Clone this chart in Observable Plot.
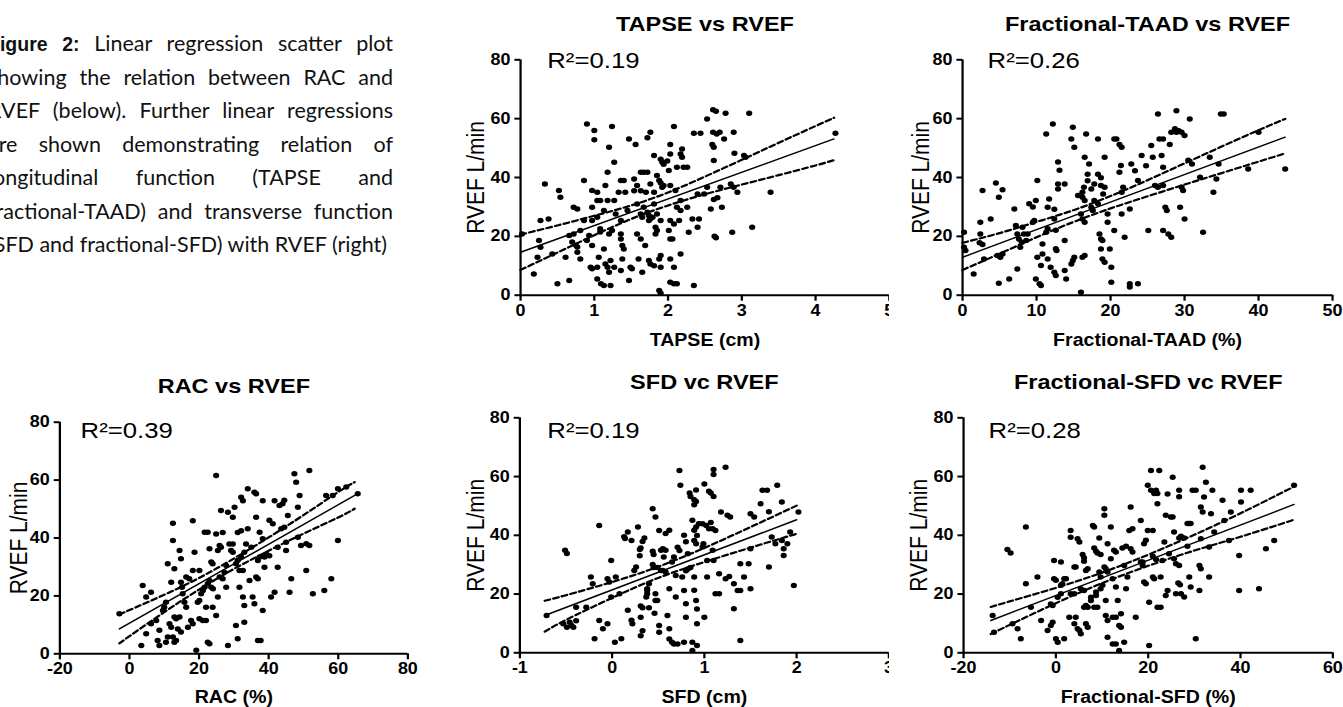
<!DOCTYPE html>
<html><head><meta charset="utf-8">
<script src="https://cdn.jsdelivr.net/npm/d3@7"></script>
<script src="https://cdn.jsdelivr.net/npm/@observablehq/plot@0.6"></script>
<style>
html,body{margin:0;padding:0;width:1343px;height:707px;overflow:hidden;background:#fff;}
.panel{position:absolute;overflow:hidden;background:transparent;}
.panel svg{transform:scaleX(1.12);transform-origin:0 0;display:block;overflow:visible;max-width:none !important;}
#caption{position:absolute;left:-12px;top:27px;width:405px;font-family:Lato,"Open Sans",sans-serif;font-size:21.5px;color:#111;}
#caption div{height:33.5px;line-height:33.5px;text-align:justify;text-align-last:justify;}
#caption div.last{text-align:left;text-align-last:left;}
#caption b{font-family:"Liberation Sans",Arial,sans-serif;font-weight:bold;font-size:19.5px;}
g[aria-label$="tick label"]{font-weight:bold;}
</style>
</head><body>
<div id="caption">
<div><b>Figure 2:</b> Linear regression scatter plot</div>
<div>showing the relation between RAC and</div>
<div>RVEF (below). Further linear regressions</div>
<div>are shown demonstrating relation of</div>
<div>longitudinal function (TAPSE and</div>
<div>fractional-TAAD) and transverse function</div>
<div class="last">(SFD and fractional-SFD) with RVEF (right)</div>
</div>
<script>
// ---------- data ----------
const titles = ["TAPSE vs RVEF", "Fractional-TAAD vs RVEF", "RAC vs RVEF", "SFD vc RVEF", "Fractional-SFD vc RVEF"];
const xLabels = ["TAPSE (cm)", "Fractional-TAAD (%)", "RAC (%)", "SFD (cm)", "Fractional-SFD (%)"];
const yLabel = "RVEF L/min";
const r2Values = ["0.19", "0.26", "0.39", "0.19", "0.28"];
const yTicks = [0, 20, 40, 60, 80];
const tapseTicks = [0, 1, 2, 3, 4, 5];
const taadTicks = [0, 10, 20, 30, 40, 50];
const racTicks = [-20, 0, 20, 40, 60, 80];
const sfdTicks = [-1, 0, 1, 2, 3];
const fsfdTicks = [-20, 0, 20, 40, 60];

const tapsePts = [[2.61,63.0],[2.65,62.5],[2.78,61.8],[3.10,61.8],[2.53,59.9],[2.61,55.4],[2.66,54.8],[2.70,55.4],[2.89,55.4],[4.27,55.0],
[0.90,58.2],[1.00,56.0],[1.00,52.8],[1.24,57.3],[2.08,57.3],[1.76,55.4],[1.47,53.1],[1.56,51.2],[1.20,50.3],[1.72,53.5],
[2.03,51.2],[2.35,55.0],[2.44,55.0],[2.60,51.2],[2.62,50.3],[2.76,53.1],[2.90,48.2],[3.03,47.5],[3.05,46.9],[2.62,45.8],
[2.19,49.7],[2.17,48.0],[2.19,46.9],[1.81,47.5],[1.90,46.2],[1.92,45.3],[1.99,45.6],[1.94,44.5],[2.03,48.0],
[2.01,42.4],[2.12,43.5],[2.21,43.5],[2.26,43.5],[1.27,45.2],[1.18,41.8],[1.63,41.8],[1.67,41.8],[1.72,41.8],
[1.54,39.5],[1.85,40.7],[1.88,39.0],[1.90,38.1],[1.92,36.7],[1.94,37.3],[1.36,39.0],[1.40,39.0],[1.76,37.8],[1.58,37.3],
[1.54,35.5],[1.63,35.5],[1.70,35.0],[1.42,35.0],[1.33,35.0],[1.81,35.0],[2.03,37.3],[2.10,35.6],
[1.15,37.3],[1.04,35.0],[0.86,39.0],[0.97,35.6],[0.52,35.6],[0.54,33.3],[0.33,37.8],
[1.04,32.2],[1.08,32.2],[1.18,32.2],[1.27,32.2],[0.97,29.9],[0.72,29.9],[0.77,29.3],[1.13,28.8],[1.04,26.5],[0.97,25.4],[0.86,25.4],
[1.29,27.6],[1.36,25.4],[1.45,28.8],[1.58,31.0],[1.67,29.9],[1.72,28.2],[1.74,27.1],[1.76,26.0],[1.81,31.0],[1.63,27.6],[1.65,26.5],
[1.85,27.6],[1.90,25.4],[2.03,25.4],[2.26,29.9],[2.33,25.9],[2.42,25.9],[2.17,28.8],[2.58,29.3],[2.73,29.9],[2.62,32.5],[2.67,33.1],
[2.71,36.7],[2.85,37.8],[2.89,36.7],[2.94,35.0],[2.53,36.7],[2.40,34.4],[2.49,34.4],
[2.40,23.1],[2.28,21.4],[2.63,20.0],[2.65,19.5],[2.87,21.4],[3.39,35.0],[3.14,23.1],
[0.02,20.8],[0.27,25.4],[0.38,25.9],[0.25,18.6],[0.27,16.3],[0.23,12.9],[0.18,7.2],[0.43,14.0],[0.50,3.9],[0.66,5.0],[0.61,12.9],
[0.70,18.1],[0.75,17.0],[0.77,16.4],[0.66,20.3],[0.72,20.8],[0.81,22.0],[0.77,14.6],[0.81,12.3],[0.97,16.9],[0.90,18.6],[0.93,20.3],
[0.95,9.5],[0.97,9.0],[1.04,9.5],[1.04,5.5],[1.06,12.9],[1.08,22.6],[1.08,21.5],[1.13,15.7],[1.15,10.6],[1.18,9.5],[1.20,7.8],
[1.09,3.9],[1.13,3.3],[1.22,3.3],[1.22,11.8],[1.27,9.5],[1.20,20.8],[1.24,22.0],[1.36,19.1],[1.38,16.9],[1.40,15.7],
[1.36,20.8],[1.38,12.3],[1.36,8.4],[1.47,5.0],[1.49,9.5],[1.51,9.0],[1.58,20.8],[1.63,19.1],[1.60,12.3],[1.65,7.8],[1.69,16.9],
[1.74,11.8],[1.76,10.6],[1.81,10.0],[1.83,20.8],[1.83,23.1],[1.85,22.0],[1.74,25.4],[1.79,26.5],
[1.88,12.3],[1.90,13.5],[1.90,9.5],[1.88,1.6],[1.90,0.7],[2.03,12.3],[2.03,19.1],[2.06,19.1],[2.08,9.5],[2.01,22.0],[2.08,24.2],
[2.17,14.0],[2.03,4.4],[2.08,3.9],[2.12,3.9],[2.35,3.3],[2.15,25.4],[2.12,29.9],[2.17,32.2]];

const taadPts = [[0.2,21.4],[0.2,16.3],[0.4,15.2],[1.5,7.2],[2.4,20.8],[2.4,24.8],[2.7,35.6],[2.3,17.8],[2.7,17.2],[2.9,12.3],
[3.8,25.9],[4.5,38.1],[4.9,33.3],[5.4,35.8],[4.7,13.5],[5.1,12.9],[5.4,14.0],[4.9,4.1],[6.3,5.5],
[7.0,29.3],[7.2,23.7],[7.4,20.8],[7.6,19.1],[8.1,23.1],[8.3,20.8],[7.4,8.9],[7.8,16.3],[8.0,18.0],[8.6,18.6],[8.8,20.8],
[9.0,31.1],[9.5,30.0],[9.5,24.8],[9.7,25.4],[9.9,32.2],[10.1,39.0],[10.1,12.9],[9.9,5.5],[10.4,3.9],[10.6,3.3],[10.6,10.1],[10.8,14.0],[10.8,17.4],[11.3,21.4],[11.5,22.6],
[11.5,29.9],[11.7,32.7],[11.3,54.8],[12.2,58.2],[11.5,12.3],[11.9,9.5],[12.4,7.8],[12.6,6.7],
[12.4,29.2],[12.4,25.9],[12.9,45.3],[13.1,42.5],[12.9,37.8],[12.9,36.1],[12.6,22.1],[12.6,15.8],[12.7,15.2],
[13.8,37.8],[13.8,18.6],[13.8,8.4],[14.0,5.5],[14.7,10.6],[14.9,11.8],[15.1,12.9],
[14.7,53.1],[14.9,57.1],[15.1,50.3],[15.6,33.9],[16.2,35.0],[16.2,33.3],[16.5,32.2],[16.4,36.7],
[16.0,27.6],[16.2,25.9],[16.5,24.8],[16.0,1.0],[16.2,12.9],[16.5,13.5],[16.5,46.9],[16.7,54.8],
[16.9,41.1],[16.9,38.9],[17.1,44.6],[17.4,29.9],[17.6,28.8],[17.4,36.1],[17.8,37.8],
[17.8,32.2],[18.3,31.1],[18.3,53.1],[18.3,41.1],[18.7,39.9],[18.5,20.8],[18.7,19.1],[18.9,18.6],
[18.7,15.7],[18.9,12.3],[19.2,11.2],[19.2,46.9],[18.7,37.3],[19.2,36.7],[19.0,34.4],[19.6,27.6],[19.6,24.8],
[19.9,15.7],[20.1,4.4],[20.1,9.5],[20.5,22.0],[20.5,53.1],[20.8,53.1],[21.2,51.2],[21.5,50.3],
[21.2,41.8],[21.4,44.1],[21.5,35.0],[21.5,27.6],[21.7,36.7],[21.9,19.7],[22.6,29.3],[22.6,3.9],[22.6,2.8],
[22.8,44.6],[23.3,42.3],[23.7,39.0],[23.7,3.9],[24.2,47.5],[24.8,44.0],[25.1,22.0],[25.5,50.9],
[25.7,46.9],[26.0,37.3],[26.4,36.7],[26.4,61.6],[26.6,53.1],[27.1,53.1],[26.9,47.5],[27.1,43.5],
[27.1,37.3],[27.1,22.0],[27.4,29.9],[27.6,28.8],[27.8,20.8],[28.2,19.7],[28.0,51.2],[28.2,55.4],
[28.7,56.6],[28.9,55.4],[29.2,55.9],[28.9,62.7],[29.4,29.9],[29.6,36.7],[29.8,35.6],[29.6,55.4],
[30.0,54.3],[30.0,25.9],[30.7,59.9],[30.5,45.9],[31.0,44.6],[32.1,40.1],[32.5,21.4],[33.4,46.9],
[33.9,35.0],[34.3,39.5],[34.6,44.6],[34.9,61.6],[35.3,61.6],[38.6,42.9],[40.0,55.4],[43.6,42.9]];

const racPts = [[-2.9,13.8],[3.8,23.6],[3.4,2.9],[4.8,6.9],[4.8,19.6],[6.2,21.3],[6.2,10.4],[7.7,11.5],[8.1,4.6],[8.6,8.1],[8.6,2.9],
[9.6,15.0],[10.0,16.1],[10.5,17.8],[11.0,31.1],[11.5,10.4],[12.0,9.2],[12.5,5.8],[11.0,5.8],[10.5,4.0],
[12.0,24.7],[12.5,45.1],[12.5,39.1],[12.9,29.4],[12.9,12.7],[13.4,12.1],[14.4,12.7],[12.9,4.0],[13.4,4.6],
[13.9,8.6],[14.8,7.5],[14.4,35.7],[14.8,32.8],[14.8,24.7],[15.1,23.0],[15.3,20.7],[15.8,17.8],[16.3,16.1],
[16.3,26.5],[17.2,25.9],[16.8,9.2],[17.7,11.5],[18.2,10.4],[18.2,28.8],[18.2,46.0],[18.7,35.1],[19.2,1.2],
[19.6,17.8],[20.1,18.4],[20.1,28.8],[20.1,12.1],[20.6,20.7],[21.1,21.9],[21.6,23.0],[21.1,11.5],[22.0,11.5],
[21.6,42.0],[22.5,42.0],[22.0,16.1],[22.5,24.2],[23.0,25.3],[23.5,23.0],[24.0,22.5],[22.5,4.0],[23.0,3.5],
[23.0,36.3],[23.5,31.7],[23.9,31.1],[23.9,16.1],[24.9,41.4],[24.9,61.6],[24.9,13.2],[25.4,19.6],
[25.4,35.7],[25.9,37.4],[26.3,36.8],[25.9,26.5],[26.8,25.9],[26.3,49.5],[26.8,41.9],[27.3,28.2],[27.8,30.5],
[27.8,23.0],[28.3,48.9],[28.3,2.9],[28.7,37.9],[29.7,37.9],[29.2,35.7],[29.7,35.1],[29.7,47.2],[30.2,50.6],
[30.6,9.8],[30.6,31.1],[31.1,32.2],[31.1,5.2],[31.1,41.9],[32.1,42.5],[31.6,28.8],[32.6,28.8],[31.6,23.0],
[32.1,54.1],[32.6,52.9],[32.1,33.4],[33.0,35.1],[33.5,37.9],[32.6,19.6],[33.0,16.7],[33.0,10.9],
[34.0,57.0],[34.0,43.2],[34.5,25.3],[35.0,36.8],[35.4,19.6],[35.9,17.3],[35.9,55.8],[36.4,55.3],[36.4,47.2],
[36.4,26.5],[36.9,25.9],[36.9,4.6],[37.7,4.6],[36.9,32.2],[37.4,33.4],[37.4,42.0],[38.3,39.7],[38.3,15.0],[38.3,52.9],
[38.8,33.4],[39.3,34.5],[40.2,33.9],[38.8,29.9],[40.2,46.1],[41.2,44.9],[40.7,19.6],[41.7,21.3],[41.7,52.9],
[42.6,29.9],[42.6,36.8],[43.1,51.2],[44.0,51.8],[43.6,43.2],[44.5,43.7],[44.5,53.0],[45.0,35.7],[45.0,38.5],
[45.5,47.8],[46.0,21.3],[46.5,25.9],[47.4,62.2],[47.9,59.3],[48.4,50.6],[48.4,40.3],[49.3,37.4],[48.9,54.7],
[50.8,28.8],[50.8,38.0],[51.7,63.3],[51.7,37.4],[52.7,20.7],[56.0,21.9],[56.5,54.7],[58.0,25.9],[58.4,54.7],
[59.9,57.0],[59.9,39.1],[62.3,57.6],[65.6,55.3]];

const sfdPts = [[-0.71,12.7],[-0.51,34.9],[-0.49,33.8],[-0.53,9.9],[-0.49,8.7],[-0.44,9.3],[-0.46,10.4],[-0.42,8.7],[-0.39,10.9],
[-0.39,15.5],[-0.28,15.5],[-0.23,25.8],[-0.21,23.5],[-0.19,4.8],[-0.14,43.3],[-0.14,11.0],[-0.10,8.2],[-0.05,9.9],
[-0.05,25.2],[-0.03,24.1],[-0.01,31.4],[-0.01,19.0],[0.03,3.6],[0.04,25.8],[0.10,4.8],[0.08,20.1],
[0.13,39.5],[0.14,38.9],[0.17,41.1],[0.17,14.5],[0.21,11.1],[0.21,38.2],[0.22,9.9],[0.24,28.0],[0.26,29.2],
[0.28,42.8],[0.30,35.2],[0.30,33.0],[0.31,35.7],[0.33,37.9],[0.31,12.1],[0.33,7.5],[0.31,5.8],[0.31,15.9],[0.33,15.3],
[0.35,39.1],[0.37,19.0],[0.38,21.8],[0.38,21.3],[0.38,20.1],[0.40,23.5],[0.40,15.3],[0.46,13.5],
[0.44,30.1],[0.45,29.0],[0.49,29.0],[0.44,34.6],[0.45,33.5],[0.44,49.0],[0.47,46.2],[0.47,20.1],[0.47,17.8],[0.49,17.8],
[0.51,9.3],[0.51,7.0],[0.51,41.6],[0.53,34.9],[0.55,35.4],[0.58,34.9],[0.53,28.0],[0.55,28.0],[0.58,27.5],[0.56,32.6],
[0.58,40.6],[0.62,41.7],[0.60,12.7],[0.62,21.8],[0.62,8.2],[0.62,4.7],[0.65,3.6],[0.67,3.0],[0.71,3.0],
[0.65,30.9],[0.67,32.6],[0.69,19.0],[0.69,26.3],[0.71,35.9],[0.73,34.8],[0.73,62.1],[0.74,57.0],[0.76,25.8],
[0.78,40.0],[0.80,37.8],[0.80,27.9],[0.82,28.5],[0.85,29.0],[0.82,33.7],[0.78,21.2],[0.80,16.7],[0.80,12.1],
[0.78,3.6],[0.87,3.6],[0.84,54.4],[0.85,53.2],[0.91,55.4],[0.89,52.1],[0.89,50.4],[0.91,51.5],
[0.89,41.7],[0.87,45.1],[0.91,42.8],[0.89,38.2],[0.91,37.1],[0.92,39.9],[0.89,25.8],[0.89,21.3],[0.91,17.8],[0.92,14.9],
[0.92,9.9],[0.92,2.5],[0.87,0.8],[0.94,43.9],[0.98,43.9],[0.98,36.0],[0.99,37.1],[1.00,57.5],[1.00,12.1],
[1.02,43.3],[1.05,42.2],[1.03,31.4],[1.03,25.8],[1.05,55.0],[1.07,54.4],[1.07,44.4],[1.09,42.2],[1.09,34.9],[1.10,31.4],
[1.10,60.7],[1.10,62.4],[1.10,53.2],[1.12,41.6],[1.12,20.1],[1.16,20.1],[1.16,26.9],[1.18,47.9],[1.23,63.2],
[1.25,46.8],[1.23,25.2],[1.27,26.0],[1.32,23.5],[1.28,46.2],[1.32,15.0],[1.36,21.2],[1.39,30.3],[1.39,21.2],
[1.39,4.2],[1.43,25.8],[1.48,30.3],[1.50,47.3],[1.50,35.4],[1.50,21.8],[1.54,46.2],[1.61,50.7],[1.63,55.3],
[1.68,55.3],[1.70,48.0],[1.70,29.2],[1.73,39.4],[1.77,37.1],[1.79,57.0],[1.84,51.3],[1.84,38.2],[1.86,35.4],[1.86,33.1],
[1.90,37.1],[1.93,41.1],[1.97,22.9],[2.02,47.9]];

const fsfdPts = [[-13.7,12.7],[-13.4,7.0],[-10.5,35.2],[-9.8,34.0],[-9.4,9.9],[-8.3,8.2],[-7.6,4.8],[-6.5,42.8],[-6.5,23.5],
[-5.4,15.5],[-4.0,25.8],[-3.2,11.0],[-1.8,7.6],[-1.1,9.3],[-0.7,10.4],[-1.1,16.6],[-0.7,16.1],
[-0.4,31.4],[-0.4,25.2],[0.0,24.7],[0.0,4.8],[0.4,3.6],[0.4,18.9],[1.1,20.1],[1.1,30.9],[1.1,23.0],[1.4,23.5],
[1.8,4.8],[1.8,25.2],[2.2,25.2],[2.9,12.1],[3.2,41.6],[3.2,39.3],[3.2,20.1],[4.0,20.1],[4.0,29.2],[4.3,29.2],
[4.0,9.9],[4.3,12.1],[4.7,38.8],[5.1,37.7],[4.7,8.2],[5.1,7.6],[5.4,6.5],[5.4,21.8],[6.1,21.2],
[5.8,33.5],[6.1,32.4],[6.1,31.2],[6.1,15.5],[6.5,16.1],[6.9,15.5],[6.5,28.0],[6.9,28.6],[6.5,9.9],[6.9,8.7],
[7.6,17.8],[7.6,18.9],[8.0,43.3],[8.3,42.8],[8.3,35.7],[8.7,34.6],[9.0,34.0],[8.3,15.5],[9.0,15.5],
[8.7,19.5],[8.7,20.7],[9.4,39.1],[9.7,33.5],[9.4,27.5],[9.7,25.8],[9.7,21.8],[10.1,23.0],
[10.5,49.0],[10.5,46.8],[10.5,29.2],[10.8,28.6],[11.2,27.5],[10.8,12.7],[11.2,11.0],[10.8,17.8],[11.2,37.1],
[11.2,5.3],[11.9,42.8],[11.9,32.0],[12.6,34.9],[13.0,34.3],[12.3,25.2],[12.3,12.1],[13.0,12.1],
[12.3,3.0],[13.0,3.0],[14.8,3.6],[13.0,22.4],[13.4,17.8],[13.7,0.8],[13.7,9.3],[14.1,8.7],[14.1,13.3],
[14.4,35.7],[15.2,36.3],[14.8,29.7],[15.2,21.8],[15.5,25.8],[15.9,41.6],[16.2,49.6],[16.2,35.4],[16.6,34.3],
[16.6,42.2],[17.3,12.1],[18.4,45.0],[18.4,30.9],[18.8,30.9],[18.8,29.7],[19.1,24.1],[19.5,23.5],[19.1,37.1],[19.5,38.3],
[19.9,57.0],[19.9,41.6],[20.2,17.2],[20.2,2.5],[20.6,62.1],[22.4,62.1],[20.6,55.3],[21.3,54.2],[21.0,41.6],
[21.0,32.9],[21.7,31.8],[21.0,25.8],[21.3,25.2],[21.7,55.3],[22.0,54.2],[22.0,50.7],[22.0,15.5],[22.7,15.5],
[22.7,25.8],[23.1,31.4],[23.5,37.7],[23.8,46.8],[23.8,19.5],[24.2,21.2],[24.2,54.1],[24.5,33.7],[24.9,46.2],[25.3,46.2],
[25.3,59.8],[25.6,41.1],[25.6,32.0],[26.0,30.3],[26.0,20.1],[26.5,23.8],[26.9,23.2],[26.7,55.3],[26.7,53.1],
[26.7,39.1],[27.1,39.7],[26.7,29.7],[27.1,20.1],[27.8,19.0],[27.8,39.1],[28.5,36.3],[28.5,44.0],[28.9,44.0],[29.2,44.0],
[28.9,25.8],[29.2,22.4],[29.6,55.3],[30.3,55.3],[30.3,4.8],[31.1,29.7],[31.4,28.6],[31.1,21.2],[31.4,49.6],
[31.4,38.8],[31.8,63.2],[31.8,47.9],[32.1,53.0],[32.5,58.1],[33.2,36.0],[33.2,25.8],[33.6,47.3],[33.9,55.3],
[34.3,41.1],[36.1,51.9],[36.5,45.0],[37.5,38.2],[37.9,47.9],[39.7,33.1],[39.7,21.2],[40.1,55.3],[40.1,51.3],
[42.2,55.3],[44.0,21.8],[45.5,35.4],[47.3,38.2],[51.6,57.0]];

// regression lines (end points)
const tapseLineX = [0, 4.25], tapseLineY = [14.6, 53.1];
const taadLineX = [0, 43.6], taadLineY = [12.9, 53.7];
const racLineX = [-2.9, 65.6], racLineY = [8.6, 55.3];
const sfdLineX = [-0.73, 2.0], sfdLineY = [12.7, 45.3];
const fsfdLineX = [-14.1, 51.6], fsfdLineY = [11.0, 50.5];

// 95% confidence bands
const tapseCiX = [0, 0.5, 1, 1.5, 2, 2.5, 3, 3.5, 4, 4.25];
const tapseCiU = [20.6, 23.7, 27.0, 30.5, 34.9, 40.3, 46.0, 51.8, 57.5, 60.3];
const tapseCiL = [8.6, 14.5, 20.4, 25.9, 30.5, 34.3, 37.6, 40.8, 44.1, 45.9];
const taadCiX = [0, 5, 10, 15, 20, 25, 30, 35, 40, 43.6];
const taadCiU = [17.8, 21.1, 24.9, 28.9, 33.7, 39.1, 44.8, 50.5, 56.1, 59.9];
const taadCiL = [8.6, 14.1, 19.7, 24.9, 29.5, 33.6, 37.6, 41.5, 45.4, 48.2];
const racCiX = [-2.9, 0, 10, 20, 30, 40, 50, 60, 64.7];
const racCiU = [13.6, 15.1, 20.4, 26.2, 32.9, 40.2, 47.9, 55.9, 59.3];
const racCiL = [3.6, 6.1, 14.4, 22.2, 29.3, 35.6, 41.5, 47.1, 50.1];
const sfdCiX = [-0.73, -0.5, 0, 0.5, 1, 1.5, 2];
const sfdCiU = [17.7, 19.6, 24.1, 29.3, 35.7, 42.8, 50.1];
const sfdCiL = [7.2, 11.2, 18.7, 25.5, 30.9, 35.8, 40.5];
const fsfdCiX = [-14.1, -10, 0, 10, 20, 30, 40, 51.6];
const fsfdCiU = [15.6, 17.5, 22.1, 27.3, 33.4, 40.2, 47.5, 56.6];
const fsfdCiL = [6.4, 9.5, 16.9, 23.7, 29.6, 34.8, 39.5, 45.3];

// ---------- drawing ----------
const FONT = "'Liberation Sans', Arial, Helvetica, sans-serif";
function zip(xs, ys) { return xs.map((x, i) => ({x, y: ys[i]})); }

function panel(cfg) {
  const box = document.createElement("div");
  box.className = "panel";
  Object.assign(box.style, {left: cfg.left + "px", top: cfg.top + "px", width: cfg.clipW + "px", height: cfg.clipH + "px"});
  const xd = [cfg.ticks[0], cfg.ticks[cfg.ticks.length - 1]];
  const svg = Plot.plot({
    width: cfg.width, height: cfg.height,
    marginLeft: cfg.mL, marginRight: cfg.mR, marginTop: cfg.mT, marginBottom: cfg.mB,
    x: {domain: xd}, y: {domain: [0, 80]},
    style: {fontFamily: FONT, color: "#000", background: "transparent", overflow: "visible"},
    marks: [
      Plot.axisY({ticks: yTicks, tickSize: 5, tickPadding: 4, tickFormat: d => String(d), fontSize: 16, fontWeight: "bold", strokeWidth: 2, label: null}),
      Plot.axisX({ticks: cfg.ticks, tickSize: 6, tickPadding: 3, tickFormat: d => String(d), fontSize: 16, fontWeight: "bold", strokeWidth: 2, label: null}),
      Plot.ruleX([xd[0]], {stroke: "#000", strokeWidth: 2}),
      Plot.ruleY([0], {stroke: "#000", strokeWidth: 2}),
      Plot.dot(cfg.pts, {x: d => d[0], y: d => d[1], r: 2.75, fill: "#000", stroke: null}),
      Plot.line(zip(cfg.lineX, cfg.lineY), {x: "x", y: "y", stroke: "#000", strokeWidth: 1.4}),
      Plot.line(zip(cfg.ciX, cfg.ciU), {x: "x", y: "y", stroke: "#000", strokeWidth: 2.2, strokeDasharray: "5,3", curve: "natural"}),
      Plot.line(zip(cfg.ciX, cfg.ciL), {x: "x", y: "y", stroke: "#000", strokeWidth: 2.2, strokeDasharray: "5,3", curve: "natural"}),
      Plot.text([cfg.title], {text: d => d, frameAnchor: "top", dy: cfg.titleDy, fontSize: 21, fontWeight: "bold", lineAnchor: "middle", fill: "#000"}),
      Plot.text([cfg.xLabel], {text: d => d, frameAnchor: "bottom", dy: cfg.xlDy, fontSize: 17.5, fontWeight: "bold", lineAnchor: "middle", fill: "#000"}),
      Plot.text([yLabel], {text: d => d, frameAnchor: "left", rotate: -90, dx: cfg.ylDx, fontSize: 21, textAnchor: "middle", lineAnchor: "middle", fill: "#000"}),
      Plot.text([cfg.r2], {text: d => "R\u00B2=" + d, frameAnchor: "top-left", dx: cfg.r2Dx, dy: cfg.r2Dy, fontSize: 23, textAnchor: "start", lineAnchor: "middle", fill: "#000"})
    ]
  });
  box.appendChild(svg);
  document.body.appendChild(box);
}

panel({left: 440, top: 0, clipW: 449, clipH: 355, width: 430, height: 355, mL: 71.43, mR: 29.33, mT: 59.3, mB: 60.3,
  ticks: tapseTicks, pts: tapsePts, lineX: tapseLineX, lineY: tapseLineY, ciX: tapseCiX, ciU: tapseCiU, ciL: tapseCiL,
  title: titles[0], xLabel: xLabels[0], r2: r2Values[0], titleDy: -36, xlDy: 45.3, ylDx: -39.5, r2Dx: 23.8, r2Dy: 1});
panel({left: 890, top: 0, clipW: 453, clipH: 355, width: 410, height: 355, mL: 64.29, mR: 15.36, mT: 59.3, mB: 60.3,
  ticks: taadTicks, pts: taadPts, lineX: taadLineX, lineY: taadLineY, ciX: taadCiX, ciU: taadCiU, ciL: taadCiL,
  title: titles[1], xLabel: xLabels[1], r2: r2Values[1], titleDy: -36, xlDy: 45.3, ylDx: -36.9, r2Dx: 22.3, r2Dy: 1});
panel({left: 0, top: 355, clipW: 440, clipH: 352, width: 390, height: 352, mL: 52.95, mR: 26.34, mT: 66.7, mB: 53.7,
  ticks: racTicks, pts: racPts, lineX: racLineX, lineY: racLineY, ciX: racCiX, ciU: racCiU, ciL: racCiL,
  title: titles[2], xLabel: xLabels[2], r2: r2Values[2], titleDy: -35.7, xlDy: 43.4, ylDx: -36, r2Dx: 18.5, r2Dy: 8.3});
panel({left: 440, top: 355, clipW: 449, clipH: 352, width: 430, height: 352, mL: 70.8, mR: 29.73, mT: 62.3, mB: 54.7,
  ticks: sfdTicks, pts: sfdPts, lineX: sfdLineX, lineY: sfdLineY, ciX: sfdCiX, ciU: sfdCiU, ciL: sfdCiL,
  title: titles[3], xLabel: xLabels[3], r2: r2Values[3], titleDy: -35.6, xlDy: 44.4, ylDx: -38.8, r2Dx: 24.5, r2Dy: 12.7});
panel({left: 890, top: 355, clipW: 453, clipH: 352, width: 410, height: 352, mL: 65.18, mR: 15.1, mT: 62.3, mB: 54.7,
  ticks: fsfdTicks, pts: fsfdPts, lineX: fsfdLineX, lineY: fsfdLineY, ciX: fsfdCiX, ciU: fsfdCiU, ciL: fsfdCiL,
  title: titles[4], xLabel: xLabels[4], r2: r2Values[4], titleDy: -35.6, xlDy: 44.4, ylDx: -39.5, r2Dx: 22.3, r2Dy: 12.7});
</script>
</body></html>
